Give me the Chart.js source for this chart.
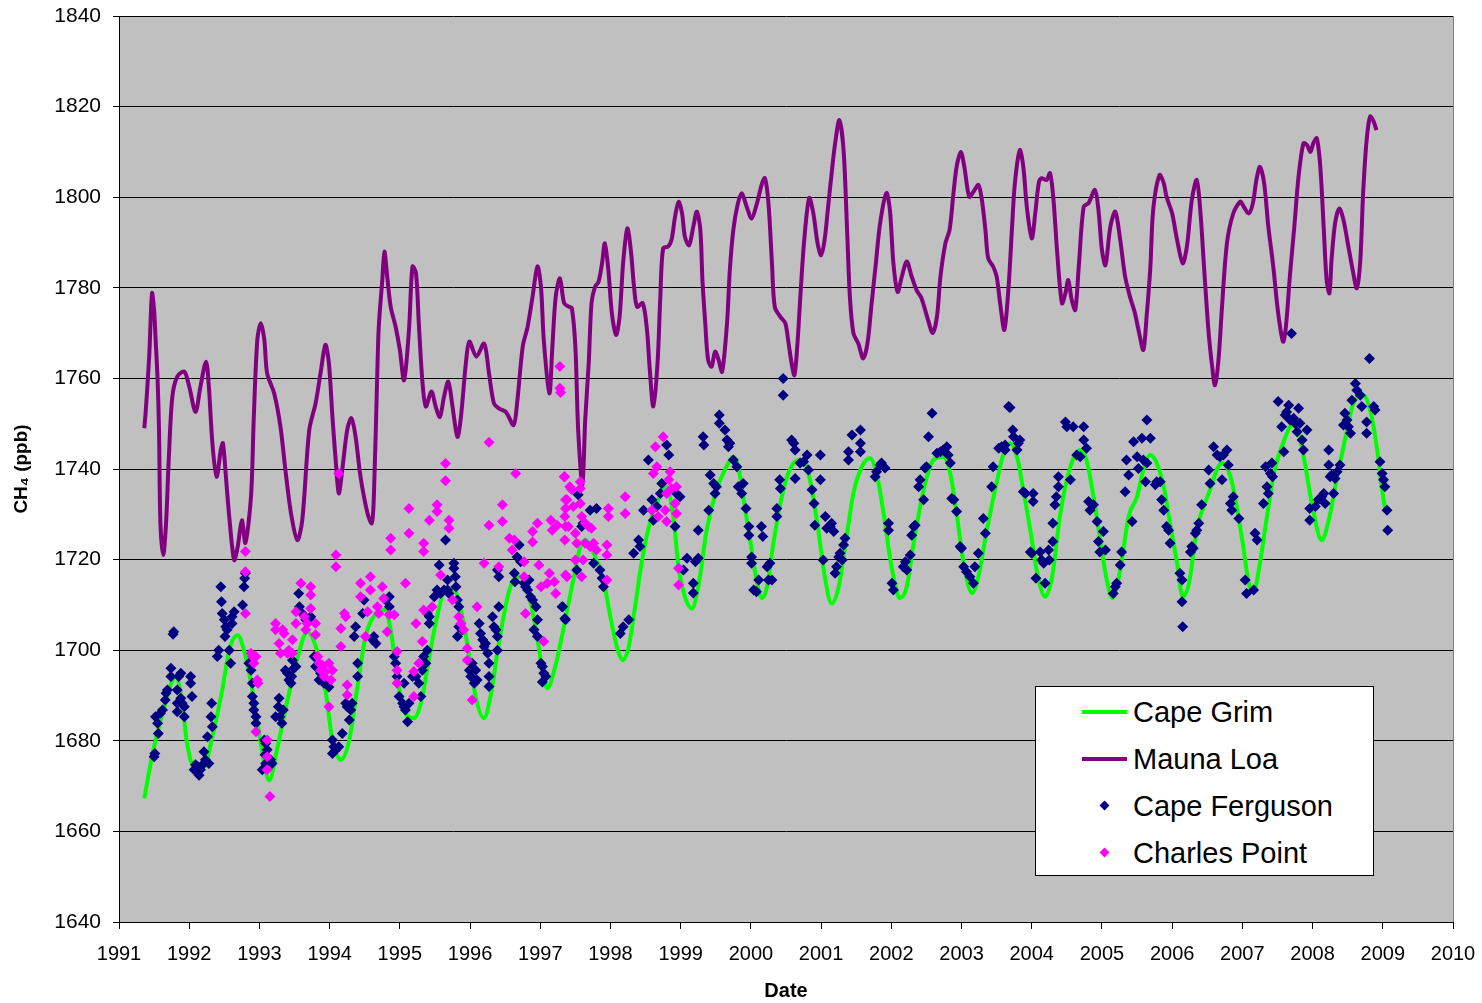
<!DOCTYPE html>
<html>
<head>
<meta charset="utf-8">
<script src="https://cdn.jsdelivr.net/npm/chart.js@4.4.1/dist/chart.umd.min.js"></script>
<style>
  body { margin: 0; background: #fff; }
  #wrap { position: relative; width: 1482px; height: 1003px; }
  #legend {
    position: absolute; left: 1035px; top: 686px; width: 337px; height: 188px;
    background: #fff; border: 1px solid #000;
    font-family: Arial, "Liberation Sans", sans-serif; font-size: 29px; color: #000;
  }
  .row { position: absolute; left: 0; height: 40px; line-height: 40px; }
  .row span.t { position: absolute; left: 97px; white-space: nowrap; }
  .ln { position: absolute; left: 46px; top: 18px; width: 45px; height: 4px; }
  .dm { position: absolute; left: 65px; top: 16px; width: 7px; height: 7px; transform: rotate(45deg); }
</style>
</head>
<body>
<div id="wrap">
  <canvas id="my-chart"></canvas>
  <div id="legend">
    <div class="row" style="top:5px"><div class="ln" style="background:#00ff00"></div><span class="t">Cape Grim</span></div>
    <div class="row" style="top:52px"><div class="ln" style="background:#800080"></div><span class="t">Mauna Loa</span></div>
    <div class="row" style="top:99px"><div class="dm" style="background:#000080"></div><span class="t">Cape Ferguson</span></div>
    <div class="row" style="top:146px"><div class="dm" style="background:#ff00ff"></div><span class="t">Charles Point</span></div>
  </div>
</div>
<script>
// [decimal year, CH4 ppb]
var capeGrim = [
  [1991.36,1667.3],[1991.47,1676.5],[1991.62,1686.1],[1991.81,1694.2],[1991.90,1688.3],[1991.97,1679.4],[1992.07,1674.3],[1992.21,1674.3],
  [1992.33,1681],[1992.47,1691.2],[1992.57,1700],[1992.69,1703.3],[1992.78,1700],[1992.90,1691.2],[1993.02,1679.4],[1993.14,1671.3],
  [1993.25,1678],[1993.40,1689],[1993.56,1699.3],[1993.68,1704.1],[1993.82,1700],[1993.94,1691.2],[1994.04,1680.2],[1994.16,1675.8],
  [1994.28,1680.2],[1994.39,1691.2],[1994.51,1702.9],[1994.66,1708.1],[1994.78,1708.9],[1994.87,1704.5],[1994.96,1694.2],[1995.08,1686.1],
  [1995.20,1685],[1995.30,1688.3],[1995.42,1698.6],[1995.53,1707.4],[1995.65,1713.3],[1995.77,1713.3],[1995.89,1707.4],[1995.99,1698.6],
  [1996.08,1689.7],[1996.20,1685],[1996.29,1689.7],[1996.41,1701.5],[1996.56,1713.3],[1996.67,1716.2],[1996.79,1714.7],[1996.94,1704.5],
  [1997.03,1695.6],[1997.10,1691.6],[1997.20,1695.6],[1997.32,1704],[1997.41,1711],[1997.47,1715.5],[1997.57,1722.8],[1997.64,1724.3],
  [1997.76,1721.4],[1997.90,1715.5],[1997.99,1708.1],[1998.09,1700.8],[1998.18,1697.8],[1998.26,1700.8],[1998.35,1709.6],[1998.45,1719.9],
  [1998.56,1728],[1998.68,1733.2],[1998.80,1736.1],[1998.90,1728.7],[1998.97,1718.4],[1999.06,1711.8],[1999.16,1709.2],[1999.25,1714],
  [1999.37,1726.5],[1999.51,1735.4],[1999.63,1739.8],[1999.75,1742.7],[1999.82,1740.5],[1999.89,1733.9],[1999.99,1724.3],[2000.08,1715.5],
  [2000.16,1711.5],[2000.23,1714],[2000.32,1723.6],[2000.42,1732.4],[2000.53,1739],[2000.68,1742],[2000.77,1741.3],[2000.87,1735.4],
  [2000.96,1726.5],[2001.06,1715.5],[2001.15,1710.3],[2001.25,1714],[2001.37,1725.8],[2001.46,1734.6],[2001.58,1740.5],[2001.70,1742.4],
  [2001.79,1739],[2001.89,1730.2],[2001.98,1720.6],[2002.05,1714.8],[2002.12,1711.5],[2002.22,1714],[2002.31,1722.8],[2002.46,1735.4],
  [2002.60,1742],[2002.74,1742.7],[2002.84,1739],[2002.93,1730.2],[2003.03,1719.2],[2003.15,1712.6],[2003.24,1716.2],[2003.36,1726.5],
  [2003.50,1737],[2003.60,1743.5],[2003.69,1745.7],[2003.79,1742.7],[2003.88,1735.4],[2003.98,1726.5],[2004.07,1717.7],[2004.19,1711.8],
  [2004.29,1716.2],[2004.40,1729.5],[2004.55,1740.5],[2004.69,1744.2],[2004.78,1742],[2004.88,1733.9],[2004.97,1725],[2005.06,1716.2],
  [2005.15,1711.5],[2005.26,1717.7],[2005.38,1729.5],[2005.50,1733.9],[2005.59,1739.8],[2005.69,1743.1],[2005.78,1741.3],[2005.88,1736.1],
  [2005.97,1728],[2006.07,1719.2],[2006.15,1711.8],[2006.24,1714.8],[2006.35,1726.5],[2006.52,1734.6],[2006.71,1741.3],[2006.83,1738.3],
  [2006.92,1731.7],[2007.02,1722.1],[2007.09,1714.8],[2007.16,1712.9],[2007.25,1719.2],[2007.35,1729.5],[2007.46,1739.8],[2007.58,1745.7],
  [2007.71,1749.7],[2007.80,1747.9],[2007.89,1741.3],[2007.99,1732.4],[2008.13,1724.3],[2008.23,1728.7],[2008.35,1738.3],[2008.47,1747.1],
  [2008.58,1754.5],[2008.72,1756.3],[2008.82,1753],[2008.92,1744.2],[2008.99,1735.4],[2009.04,1730.6]
];

var maunaLoa = [
  [1991.36,1749],[1991.38,1752.6],[1991.43,1764.8],[1991.47,1778.8],[1991.50,1775],[1991.52,1769],[1991.55,1759.6],[1991.57,1748.6],
  [1991.59,1728],[1991.63,1721],[1991.67,1728],[1991.71,1742.6],[1991.76,1756],[1991.83,1760.4],[1991.93,1761.5],[1992.00,1758.2],
  [1992.09,1752.6],[1992.16,1758.2],[1992.24,1763.7],[1992.28,1758.2],[1992.33,1745.7],[1992.39,1738.3],[1992.45,1744.2],[1992.48,1745.7],
  [1992.53,1736.9],[1992.57,1729.5],[1992.64,1719.9],[1992.69,1722.8],[1992.75,1728.7],[1992.80,1723.7],[1992.88,1733.9],[1992.92,1751.5],
  [1992.97,1768.5],[1993.02,1772.2],[1993.07,1768.5],[1993.11,1761.1],[1993.21,1756.7],[1993.30,1749.3],[1993.37,1739.8],[1993.45,1730.2],
  [1993.54,1724.3],[1993.61,1728.7],[1993.71,1748.6],[1993.80,1754.5],[1993.87,1761.1],[1993.94,1767.4],[1993.99,1763.3],[1994.04,1751.5],
  [1994.09,1741.2],[1994.13,1734.6],[1994.18,1739.8],[1994.25,1748.6],[1994.31,1751.2],[1994.37,1747.1],[1994.44,1738.3],[1994.54,1730.2],
  [1994.60,1728],[1994.63,1733.9],[1994.68,1761.9],[1994.70,1771.4],[1994.75,1781.7],[1994.78,1788],[1994.82,1782.5],[1994.87,1775.8],
  [1994.94,1771.4],[1995.00,1766.3],[1995.06,1759.6],[1995.13,1770.7],[1995.18,1784.7],[1995.23,1783.2],[1995.27,1772.2],[1995.32,1759.6],
  [1995.37,1753.8],[1995.45,1757.1],[1995.51,1753.8],[1995.57,1751.5],[1995.63,1756],[1995.69,1759.3],[1995.75,1753.8],[1995.82,1747.1],
  [1995.87,1751.5],[1995.94,1763.3],[1995.99,1768.1],[1996.09,1764.8],[1996.20,1767.7],[1996.27,1761.1],[1996.34,1754.5],[1996.41,1753.4],
  [1996.51,1752.6],[1996.62,1749.7],[1996.67,1754.5],[1996.75,1767],[1996.82,1771.4],[1996.89,1778],[1996.96,1784.7],[1997.01,1780.2],
  [1997.05,1768.5],[1997.13,1756.7],[1997.17,1766.3],[1997.22,1778],[1997.28,1782.1],[1997.34,1776.6],[1997.41,1775.8],[1997.45,1775.5],
  [1997.50,1767],[1997.54,1748.6],[1997.60,1736.5],[1997.64,1750.8],[1997.69,1763.3],[1997.73,1776.6],[1997.78,1780.2],[1997.83,1781.3],
  [1997.88,1785.4],[1997.92,1789.8],[1997.97,1783.9],[1998.02,1774.4],[1998.08,1769.6],[1998.13,1773.6],[1998.18,1785.4],[1998.24,1793.1],
  [1998.29,1788.3],[1998.34,1779.5],[1998.38,1775.8],[1998.46,1776.6],[1998.52,1770.7],[1998.56,1761.9],[1998.61,1753.8],[1998.67,1763.3],
  [1998.71,1778],[1998.75,1788.7],[1998.82,1789.1],[1998.87,1790.6],[1998.92,1795.7],[1998.97,1799],[1999.02,1796.4],[1999.06,1791.3],
  [1999.12,1789.4],[1999.18,1793.5],[1999.23,1796.8],[1999.28,1792.8],[1999.31,1781.7],[1999.35,1772.2],[1999.39,1764.1],[1999.44,1762.6],
  [1999.49,1765.9],[1999.54,1764.1],[1999.59,1761.5],[1999.66,1772.2],[1999.70,1783.9],[1999.75,1792.8],[1999.81,1798.3],[1999.87,1800.9],
  [1999.94,1797.9],[2000.01,1795.3],[2000.08,1798.3],[2000.16,1803.1],[2000.20,1804.2],[2000.25,1798.7],[2000.30,1785.4],[2000.34,1775.8],
  [2000.42,1773.6],[2000.49,1772.2],[2000.53,1768.5],[2000.58,1763.3],[2000.62,1760.7],[2000.66,1767],[2000.71,1779.5],[2000.76,1790.6],
  [2000.83,1799.8],[2000.89,1796.4],[2000.95,1789.8],[2001.00,1787.2],[2001.05,1790.6],[2001.10,1797.9],[2001.15,1805.3],[2001.20,1811.9],
  [2001.26,1817],[2001.32,1810.4],[2001.37,1792.8],[2001.41,1778],[2001.46,1770],[2001.53,1767.7],[2001.60,1764.4],[2001.66,1767.7],
  [2001.72,1776.6],[2001.78,1785.4],[2001.84,1794.2],[2001.93,1800.9],[2001.98,1797.2],[2002.03,1785.4],[2002.09,1779.1],[2002.15,1782.5],
  [2002.22,1785.8],[2002.29,1782.5],[2002.36,1779.5],[2002.43,1777.7],[2002.51,1773.6],[2002.59,1770],[2002.65,1773.6],[2002.70,1782.5],
  [2002.77,1789.8],[2002.83,1792.8],[2002.88,1800.1],[2002.93,1806.7],[2002.99,1810],[2003.04,1806.7],[2003.11,1800.1],[2003.17,1801.2],
  [2003.24,1802.7],[2003.29,1799.4],[2003.34,1792.8],[2003.38,1786.5],[2003.45,1784.7],[2003.50,1782.5],[2003.55,1776.6],[2003.61,1770.7],
  [2003.67,1780.2],[2003.72,1793.5],[2003.76,1803.1],[2003.83,1810.4],[2003.88,1806.7],[2003.93,1797.9],[2004.00,1790.9],[2004.05,1796.4],
  [2004.10,1803.1],[2004.14,1804.2],[2004.21,1803.8],[2004.26,1805.3],[2004.31,1799.4],[2004.36,1788.3],[2004.43,1776.6],[2004.48,1778.8],
  [2004.52,1781.7],[2004.57,1777.3],[2004.62,1775.1],[2004.67,1784.7],[2004.74,1797.9],[2004.81,1798.7],[2004.90,1801.6],[2004.95,1797.2],
  [2005.00,1788.3],[2005.05,1785],[2005.12,1793.5],[2005.19,1796.8],[2005.26,1790.6],[2005.33,1782.5],[2005.40,1778],[2005.47,1774.4],
  [2005.53,1770],[2005.59,1766.3],[2005.64,1774.4],[2005.69,1784.7],[2005.73,1797.2],[2005.82,1804.9],[2005.88,1803.1],[2005.92,1800.1],
  [2006.00,1796.4],[2006.07,1790.6],[2006.15,1785.4],[2006.21,1789.1],[2006.28,1799.4],[2006.35,1803.8],[2006.40,1797.2],[2006.46,1783.2],
  [2006.52,1770],[2006.57,1762.6],[2006.61,1758.5],[2006.66,1764.1],[2006.71,1775.8],[2006.78,1789.8],[2006.87,1796.4],[2006.97,1799],
  [2007.02,1797.9],[2007.09,1796.4],[2007.15,1798.7],[2007.20,1803.8],[2007.25,1806.7],[2007.31,1803.1],[2007.37,1793.5],[2007.44,1784.7],
  [2007.51,1774.4],[2007.58,1768.1],[2007.62,1771.4],[2007.68,1783.2],[2007.74,1793.5],[2007.80,1804.5],[2007.87,1811.9],[2007.92,1811.5],
  [2007.97,1810],[2008.01,1811.9],[2008.06,1813],[2008.11,1806.7],[2008.16,1792.8],[2008.20,1781.7],[2008.24,1778.8],[2008.27,1786.1],
  [2008.32,1794.2],[2008.38,1797.5],[2008.44,1795],[2008.51,1789.1],[2008.58,1783.2],[2008.63,1779.9],[2008.68,1786.1],[2008.72,1800.9],
  [2008.77,1812.6],[2008.82,1817.8],[2008.87,1816.7],[2008.91,1814.8]
];

var capeFerguson = [
  [1991.50,1676.5],[1991.51,1677.2],[1991.56,1681.6],[1991.55,1683.9],[1991.52,1685.3],[1991.59,1686.1],[1991.62,1686.8],[1991.66,1689],
  [1991.67,1690.5],[1991.69,1691.2],[1991.74,1696],[1991.74,1694.2],[1991.78,1704.1],[1991.77,1703.5],[1991.83,1691.2],[1991.85,1694.2],
  [1991.88,1694.9],[1991.88,1689.4],[1991.83,1688.3],[1991.83,1686.4],[1991.90,1688.3],[1991.93,1687.5],[1991.93,1685.3],[1992.02,1694.2],
  [1992.02,1692.7],[1992.04,1689.8],[1992.09,1674.7],[1992.07,1673.6],[1992.12,1674.3],[1992.14,1672.4],[1992.16,1673.6],[1992.19,1674.7],
  [1992.21,1677.6],[1992.26,1680.9],[1992.23,1675.8],[1992.28,1675],[1992.31,1685.3],[1992.32,1688.3],[1992.33,1683.1],[1992.40,1698.6],
  [1992.42,1700],[1992.45,1714],[1992.46,1710.7],[1992.47,1708.1],[1992.50,1706.7],[1992.52,1705.2],[1992.54,1704.5],[1992.51,1703],
  [1992.57,1700],[1992.59,1697.1],[1992.61,1705.9],[1992.61,1707.4],[1992.64,1708.5],[1992.76,1710],[1992.78,1714],[1992.79,1715.9],
  [1992.80,1717],[1992.85,1697.1],[1992.88,1695.6],[1992.90,1692.7],[1992.90,1689.8],[1992.92,1688.3],[1992.92,1686.8],[1992.95,1685.3],
  [1992.95,1683.9],[1993.07,1680.2],[1993.09,1679.4],[1993.08,1676.9],[1993.09,1675],[1993.11,1678],[1993.16,1675.8],[1993.18,1675],
  [1993.04,1673.6],[1993.28,1689.4],[1993.27,1687.5],[1993.29,1685.3],[1993.32,1683.9],[1993.34,1686.8],[1993.23,1685.3],[1993.37,1695.6],
  [1993.40,1694.9],[1993.42,1693.4],[1993.45,1692.7],[1993.46,1694.2],[1993.49,1696],[1993.47,1697.8],[1993.52,1696.4],[1993.56,1712.5],
  [1993.57,1709.6],[1993.61,1708.1],[1993.66,1706.7],[1993.71,1707],[1993.73,1707.4],[1993.78,1698.6],[1993.80,1696.4],[1993.85,1693.4],
  [1993.87,1694.9],[1993.92,1692.7],[1993.99,1691.9],[1994.04,1680.2],[1994.06,1678.7],[1994.04,1677.2],[1994.09,1678],[1994.13,1678.7],
  [1994.18,1681.6],[1994.23,1688.3],[1994.25,1687.5],[1994.28,1684.6],[1994.32,1688.3],[1994.30,1686.8],[1994.40,1697.1],[1994.40,1694.2],
  [1994.35,1703],[1994.37,1705.2],[1994.47,1708.1],[1994.49,1711.1],[1994.61,1702.3],[1994.66,1701.5],[1994.63,1703],[1994.80,1711.1],
  [1994.85,1711.8],[1994.85,1709.6],[1994.92,1698.6],[1994.94,1697.1],[1994.96,1694.2],[1994.99,1689.8],[1995.04,1688.3],[1995.06,1687.5],
  [1995.06,1692.7],[1995.08,1686.8],[1995.11,1684.2],[1995.13,1688.3],[1995.18,1694.2],[1995.23,1694.2],[1995.27,1692.7],[1995.30,1689.8],
  [1995.32,1695.6],[1995.37,1697.1],[1995.39,1700],[1995.34,1698.6],[1995.39,1708.1],[1995.42,1707.4],[1995.42,1705.9],[1995.49,1711.8],
  [1995.53,1713.3],[1995.56,1718.8],[1995.58,1712.5],[1995.63,1713.3],[1995.65,1724.3],[1995.68,1715.5],[1995.68,1713.3],[1995.70,1712.5],
  [1995.77,1719.2],[1995.77,1718.1],[1995.79,1716.2],[1995.80,1714],[1995.82,1711.1],[1995.84,1709.6],[1995.84,1705.2],[1995.82,1703],
  [1995.89,1704.5],[1995.99,1695.6],[1996.01,1694.2],[1996.03,1697.1],[1996.06,1692.7],[1996.10,1693.4],[1996.08,1695.6],[1996.13,1705.9],
  [1996.15,1703.7],[1996.18,1702.3],[1996.20,1700.8],[1996.22,1701.5],[1996.25,1699.3],[1996.27,1697.1],[1996.27,1694.2],[1996.27,1692],
  [1996.32,1707.4],[1996.34,1705.2],[1996.37,1704.5],[1996.39,1703],[1996.41,1709.6],[1996.41,1716.2],[1996.39,1717.7],[1996.39,1700],
  [1996.63,1717],[1996.64,1715.1],[1996.67,1720.6],[1996.70,1723.2],[1996.72,1719.5],[1996.77,1714.8],[1996.79,1714],[1996.82,1713.3],
  [1996.84,1715.5],[1996.86,1711.8],[1996.89,1711.1],[1996.94,1709.6],[1996.96,1706.7],[1996.91,1704.5],[1996.96,1703],[1997.01,1697.1],
  [1997.03,1696.4],[1997.05,1694.9],[1997.08,1694.2],[1997.03,1693],[1997.32,1709.6],[1997.36,1706.7],
  [1997.31,1709.6],[1997.35,1707],[1997.52,1717.7],[1997.54,1734.3],[1997.59,1727.3],[1997.61,1728],[1997.71,1730.9],[1997.76,1719.2],
  [1997.80,1731.3],[1997.85,1717.7],[1997.88,1715.9],[1997.90,1714],[1998.14,1703.7],[1998.18,1705.2],[1998.26,1706.7],[1998.33,1721.4],
  [1998.40,1724.3],[1998.42,1722.9],[1998.47,1730.9],[1998.54,1742],[1998.59,1733.2],[1998.61,1728.7],[1998.66,1731.7],[1998.71,1734.6],
  [1998.73,1736.8],[1998.80,1745.3],[1998.83,1743.1],[1998.92,1727.3],[1998.94,1734.6],[1998.99,1733.9],[1999.04,1717.7],[1999.09,1720.3],
  [1999.18,1714.8],[1999.18,1712.6],[1999.21,1719.5],[1999.25,1720.3],[1999.25,1726.5],[1999.32,1747.1],[1999.33,1745.3],[1999.40,1730.9],
  [1999.42,1738.7],[1999.47,1736.8],[1999.49,1734.6],[1999.51,1736.1],[1999.55,1751.9],[1999.55,1750.1],[1999.63,1748.6],[1999.66,1746.4],
  [1999.68,1744.9],[1999.70,1745.7],[1999.75,1742],[1999.80,1740.5],[1999.82,1736.1],[1999.87,1734.6],[1999.89,1736.8],[1999.93,1731.3],
  [1999.97,1727.3],[1999.97,1725.4],[2000.01,1720.6],[2000.01,1719.2],[2000.04,1713.3],[2000.08,1712.9],[2000.11,1715.5],[2000.15,1727.3],
  [2000.17,1725.1],[2000.23,1718.4],[2000.25,1715.5],[2000.30,1715.5],[2000.27,1719.2],[2000.37,1731.3],[2000.37,1729.5],[2000.41,1737.6],
  [2000.42,1735.7],[2000.46,1760],[2000.46,1756.3],[2000.58,1746.4],[2000.61,1745.7],[2000.63,1744.2],[2000.63,1737.9],[2000.70,1741.3],
  [2000.75,1741.6],[2000.80,1743.1],[2000.82,1739.8],[2000.87,1735.4],[2000.90,1732.4],[2000.91,1727.6],[2000.99,1743.1],[2000.99,1737.6],
  [2001.06,1729.5],[2001.08,1726.9],[2001.13,1727.3],[2001.15,1728],[2001.18,1726.2],[2001.03,1719.9],[2001.20,1717],[2001.22,1718.4],
  [2001.25,1720.6],[2001.27,1721.4],[2001.30,1719.9],[2001.32,1723.2],[2001.34,1724.7],[2001.39,1743.8],[2001.39,1742],[2001.44,1747.5],
  [2001.56,1748.6],[2001.56,1745.7],[2001.56,1743.8],[2001.77,1738.3],[2001.79,1739.4],[2001.84,1740.9],[2001.86,1741.3],[2001.91,1740.2],
  [2001.96,1728],[2001.96,1726.5],[2002.01,1714.8],[2002.03,1713.3],[2002.17,1718.4],[2002.20,1719.5],[2002.22,1717.7],[2002.27,1721],
  [2002.29,1725.4],[2002.32,1727.3],[2002.34,1727.6],[2002.39,1736.1],[2002.41,1737.6],[2002.46,1733.2],[2002.48,1740.2],[2002.50,1740.5],
  [2002.53,1747.1],[2002.58,1752.3],[2002.65,1743.5],[2002.70,1743.8],[2002.74,1744.2],[2002.79,1744.9],[2002.81,1743.1],[2002.84,1741.3],
  [2002.86,1733.5],[2002.89,1733.2],[2002.93,1730.6],[2002.98,1722.9],[2003.00,1722.5],[2003.03,1718.4],[2003.07,1717.3],[2003.12,1716.2],
  [2003.17,1714.8],[2003.19,1718.4],[2003.24,1721.4],[2003.31,1729.1],[2003.34,1725.8],[2003.43,1736.1],[2003.45,1740.5],[2003.53,1744.6],
  [2003.57,1744.9],[2003.62,1744.2],[2003.67,1753.8],
  [2003.60,1744.6],[2003.62,1745.3],[2003.69,1753.6],[2003.73,1748.6],[2003.74,1747.1],[2003.79,1744.2],[2003.81,1745.7],[2003.83,1746.4],
  [2003.88,1735],[2003.91,1734.6],[2004.02,1734.6],[2004.02,1732.8],[2003.98,1721.7],[2004.00,1721.4],[2004.06,1715.9],[2004.12,1721.7],
  [2004.14,1719.9],[2004.17,1719.2],[2004.19,1714.8],[2004.24,1722.1],[2004.25,1719.9],[2004.30,1724],[2004.30,1728],[2004.33,1732.1],
  [2004.35,1733.9],[2004.38,1736.1],[2004.38,1738.3],[2004.48,1750.4],[2004.50,1749.3],[2004.55,1737.6],[2004.59,1749.3],[2004.64,1743.1],
  [2004.69,1742.7],[2004.74,1746.4],[2004.74,1749.3],[2004.78,1744.6],[2004.81,1732.8],[2004.83,1730.9],[2004.88,1732.1],[2004.93,1728.4],
  [2004.95,1724],[2004.97,1721.7],[2005.02,1726.2],[2005.05,1722.1],[2005.16,1712.5],[2005.19,1714],[2005.21,1714.8],[2005.26,1718.8],
  [2005.28,1721.7],[2005.33,1735],[2005.35,1742],[2005.38,1738.7],[2005.43,1728.4],[2005.45,1746],[2005.50,1742.7],[2005.52,1740.1],
  [2005.57,1746.8],[2005.59,1742],[2005.64,1741.3],[2005.64,1750.8],[2005.69,1746.8],[2005.62,1737.2],[2005.76,1736.5],[2005.78,1737.2],
  [2005.83,1737.2],[2005.85,1733.2],[2005.88,1730.9],[2005.92,1727.3],[2005.95,1726.5],[2005.97,1723.6],[2006.11,1717],[2006.14,1715.5],
  [2006.14,1710.7],[2006.15,1705.2],[2006.26,1721.7],[2006.28,1722.9],[2006.30,1722.5],[2006.33,1725.8],[2006.35,1726.5],[2006.38,1728],
  [2006.42,1732.1],[2006.52,1739.8],[2006.54,1736.8],[2006.59,1744.9],[2006.64,1743.1],[2006.68,1742.7],[2006.71,1737.6],[2006.73,1743.1],
  [2006.78,1744.2],[2006.80,1740.9],[2006.83,1732.4],[2006.85,1730.9],[2006.87,1733.9],[2006.95,1729.1],[2007.04,1715.5],[2007.06,1712.5],
  [2007.16,1713.3],[2007.18,1725.8],[2007.21,1724.3],[2007.30,1732.4],[2007.33,1740.5],[2007.35,1736.1],[2007.37,1734.6],[2007.40,1739],
  [2007.42,1741.3],[2007.43,1738.3],[2007.51,1754.9],[2007.56,1749.3],[2007.59,1743.8],[2007.61,1751.9],[2007.63,1752.6],[2007.66,1754.1],
  [2007.68,1750.8],[2007.70,1769.9],[2007.73,1751.2],[2007.75,1750.1],[2007.80,1753.4],[2007.78,1748.2],[2007.82,1750.1],[2007.85,1746.4],
  [2007.87,1744.2],[2007.92,1748.6],[2007.96,1731.3],[2007.96,1728.7],[2008.04,1731.7],[2008.08,1733.2],[2008.13,1733.9],[2008.16,1734.6],
  [2008.18,1732.4],[2008.23,1744.2],[2008.23,1740.9],[2008.25,1738.3],[2008.27,1738.7],[2008.30,1734.6],[2008.32,1737.9],[2008.35,1739.4],
  [2008.39,1740.9],[2008.44,1749.7],[2008.46,1752.3],[2008.49,1750.8],[2008.51,1749.3],[2008.54,1747.9],[2008.56,1755.2],[2008.61,1758.9],
  [2008.63,1757.4],[2008.68,1756.3],[2008.70,1753.8],[2008.77,1750.4],[2008.77,1747.9],[2008.81,1764.4],[2008.87,1753.8],[2008.89,1753],
  [2008.96,1741.6],[2008.99,1739],[2009.01,1737.6],[2009.03,1736.1],[2009.06,1730.9],[2009.07,1726.5]
];

var charlesPoint = [
  [1992.80,1721.8],[1992.80,1717.3],[1992.80,1708.1],[1992.88,1699.3],[1992.90,1698.6],[1992.92,1697.1],[1992.95,1698.6],[1992.97,1693.4],
  [1992.98,1692.7],[1992.95,1682],[1993.11,1680.2],[1993.11,1676.5],[1993.11,1673.6],[1993.15,1667.7],[1993.23,1705.9],[1993.23,1704.5],
  [1993.28,1701.5],[1993.33,1704.5],[1993.35,1703.7],[1993.30,1699.3],[1993.40,1699.3],[1993.42,1700],[1993.47,1702.3],[1993.47,1699.3],
  [1993.52,1708.5],[1993.52,1705.9],[1993.59,1714.8],[1993.73,1714],[1993.73,1712.2],[1993.73,1709.2],[1993.64,1707.4],[1993.66,1704.5],
  [1993.68,1705.9],[1993.80,1705.9],[1993.80,1703.4],[1993.83,1698.6],[1993.85,1697.1],[1993.87,1695.6],[1993.90,1696.7],[1993.92,1694.2],
  [1993.94,1695.3],[1993.99,1697.1],[1994.04,1695.6],[1994.02,1693.4],[1993.99,1687.5],[1994.09,1721],[1994.09,1718.4],[1994.13,1739],
  [1994.16,1704.8],[1994.16,1700.8],[1994.21,1708.1],[1994.23,1707.4],[1994.25,1692.3],[1994.25,1690.1],[1994.44,1714.8],[1994.44,1711.8],
  [1994.51,1703],[1994.54,1708.5],[1994.58,1716.2],[1994.58,1713.3],[1994.68,1709.6],[1994.70,1708.1],[1994.75,1714],[1994.77,1711.4],
  [1994.82,1704.1],[1994.85,1707.8],[1994.92,1707.8],[1994.87,1724.7],[1994.87,1722.1],[1994.96,1699.7],[1994.96,1695.6],[1994.96,1692.7],
  [1995.08,1714.8],[1995.13,1731.3],[1995.13,1725.8],[1995.20,1695.3],[1995.20,1689.8],[1995.23,1705.9],[1995.27,1697.1],[1995.32,1701.9],
  [1995.34,1723.6],[1995.34,1721.8],[1995.34,1708.9],[1995.42,1728.7],[1995.46,1709.6],[1995.53,1732.1],[1995.53,1730.6],[1995.58,1716.6],
  [1995.65,1741.2],[1995.65,1737.4],[1995.70,1728.7],[1995.70,1726.9],[1995.75,1711.1],[1995.84,1707.4],[1995.87,1705.9],[1995.91,1704.5],
  [1995.96,1700.4],[1995.96,1697.8],[1996.03,1689],[1996.10,1709.6],[1996.20,1719.2],[1996.27,1727.6],[1996.27,1745.9],[1996.41,1718.4],
  [1996.46,1732.1],[1996.46,1728.4],[1996.56,1724.7],[1996.60,1722.1],[1996.63,1724.3],[1996.65,1739],[1996.77,1719.5],[1996.77,1716.2],
  [1996.79,1708.1],[1996.89,1726.2],[1996.89,1723.9],[1996.96,1728],[1996.98,1718.8],[1997.01,1714],[1997.05,1701.9],[1997.10,1714.8],
  [1997.13,1717],[1997.15,1728.7],[1997.17,1726.5],[1997.20,1715.1],[1997.22,1712.5],[1997.24,1727.6],[1997.28,1762.6],[1997.28,1757.8],
  [1997.29,1756.9],[1997.34,1738.3],[1997.36,1733.2],[1997.36,1731.3],[1997.36,1727.3],[1997.36,1716.6],
  [1997.35,1738.3],[1997.42,1736.1],[1997.45,1735.4],[1997.57,1737.2],[1997.57,1735.7],[1997.38,1733.2],[1997.47,1731.7],[1997.57,1732.4],
  [1997.35,1729.5],[1997.40,1727.3],[1997.50,1725.8],[1997.59,1729.5],[1997.64,1728],[1997.69,1727.3],[1997.73,1726.9],[1997.35,1724.3],
  [1997.52,1723.6],[1997.64,1723.6],[1997.71,1722.9],[1997.76,1723.6],[1997.80,1722.1],[1997.38,1716.2],[1997.50,1719.9],[1997.61,1719.9],
  [1997.59,1716.2],[1997.95,1723.2],[1997.95,1721],[1997.97,1731.3],[1997.97,1729.5],[1997.95,1715.5],[1998.21,1733.9],[1998.21,1730.2],
  [1998.64,1744.9],[1998.75,1747.1],[1998.66,1740.5],[1998.61,1739],[1998.85,1739.4],[1998.83,1737.6],[1998.87,1735.7],[1998.94,1736.1],
  [1998.80,1734.6],[1998.59,1730.9],[1998.68,1729.5],[1998.78,1730.9],[1998.80,1728.4],[1998.92,1732.4],[1998.94,1730.2],[1998.97,1718.1],
  [1998.97,1714.4]
];

var yearTicks = [1991, 2010];
var ppbRange = [1640, 1840];

function toXY(arr) {
  return arr.map(function(p) { return { x: p[0], y: p[1] }; });
}

var FONT = 'Arial, "Liberation Sans", sans-serif';

var plotBg = {
  id: 'plotBg',
  beforeDraw: function(chart) {
    var a = chart.chartArea, ctx = chart.ctx;
    ctx.save();
    ctx.fillStyle = '#c0c0c0';
    ctx.fillRect(a.left, a.top, a.right - a.left, a.bottom - a.top);
    ctx.restore();
  },
  afterDatasetsDraw: function(chart) {
    var a = chart.chartArea, ctx = chart.ctx;
    ctx.save();
    ctx.strokeStyle = '#808080';
    ctx.lineWidth = 1;
    ctx.beginPath();
    ctx.moveTo(a.right + 0.5, a.top);
    ctx.lineTo(a.right + 0.5, a.bottom);
    ctx.stroke();
    ctx.restore();
  }
};

var ctx = document.getElementById('my-chart');
var chart = new Chart(ctx, {
  type: 'scatter',
  data: {
    datasets: [
      {
        label: 'Cape Grim',
        type: 'line',
        data: toXY(capeGrim),
        borderColor: '#00ff00',
        borderWidth: 4,
        pointRadius: 0,
        tension: 0.4,
        cubicInterpolationMode: 'monotone',
        fill: false,
        order: 4
      },
      {
        label: 'Mauna Loa',
        type: 'line',
        data: toXY(maunaLoa),
        borderColor: '#800080',
        borderWidth: 4,
        pointRadius: 0,
        tension: 0.3,
        fill: false,
        order: 3
      },
      {
        label: 'Cape Ferguson',
        data: toXY(capeFerguson),
        pointStyle: 'rectRot',
        pointRadius: 5.5,
        backgroundColor: '#000080',
        borderColor: '#000080',
        borderWidth: 0,
        order: 2
      },
      {
        label: 'Charles Point',
        data: toXY(charlesPoint),
        pointStyle: 'rectRot',
        pointRadius: 5.5,
        backgroundColor: '#ff00ff',
        borderColor: '#ff00ff',
        borderWidth: 0,
        order: 1
      }
    ]
  },
  options: {
    responsive: true,
    maintainAspectRatio: false,
    animation: false,
    layout: { padding: { left: 0, top: 16, right: 29, bottom: 0 } },
    plugins: { legend: { display: false }, tooltip: { enabled: false } },
    scales: {
      x: {
        type: 'linear',
        min: yearTicks[0],
        max: yearTicks[1],
        afterFit: function(scale) {
          scale.height = 81;
          scale.paddingLeft = 0;
          scale.paddingRight = 0;
        },
        ticks: {
          stepSize: 1,
          autoSkip: false,
          maxRotation: 0,
          padding: 13,
          color: '#000',
          font: { family: FONT, size: 20 },
          callback: function(v) { return String(v); }
        },
        grid: { drawOnChartArea: false, drawTicks: true, tickLength: 7, color: '#000' },
        border: { display: true, color: '#000', width: 1 },
        title: { display: true, text: 'Date', color: '#000', padding: { top: 0, bottom: 0 },
                 font: { family: FONT, size: 20, weight: 'bold' } }
      },
      y: {
        min: ppbRange[0],
        max: ppbRange[1],
        afterFit: function(scale) {
          scale.width = 119;
          scale.paddingTop = 0;
          scale.paddingBottom = 0;
        },
        ticks: {
          stepSize: 20,
          padding: 12,
          color: '#000',
          font: { family: FONT, size: 21 },
          callback: function(v) { return String(v); }
        },
        grid: { color: '#000', lineWidth: 1, tickLength: 6, tickColor: '#000' },
        border: { display: true, color: '#000', width: 1 },
        title: { display: true, text: 'CH\u2084 (ppb)', color: '#000', padding: { top: 10, bottom: 0 },
                 font: { family: FONT, size: 19, weight: 'bold' } }
      }
    }
  },
  plugins: [plotBg]
});
</script>
</body>
</html>
